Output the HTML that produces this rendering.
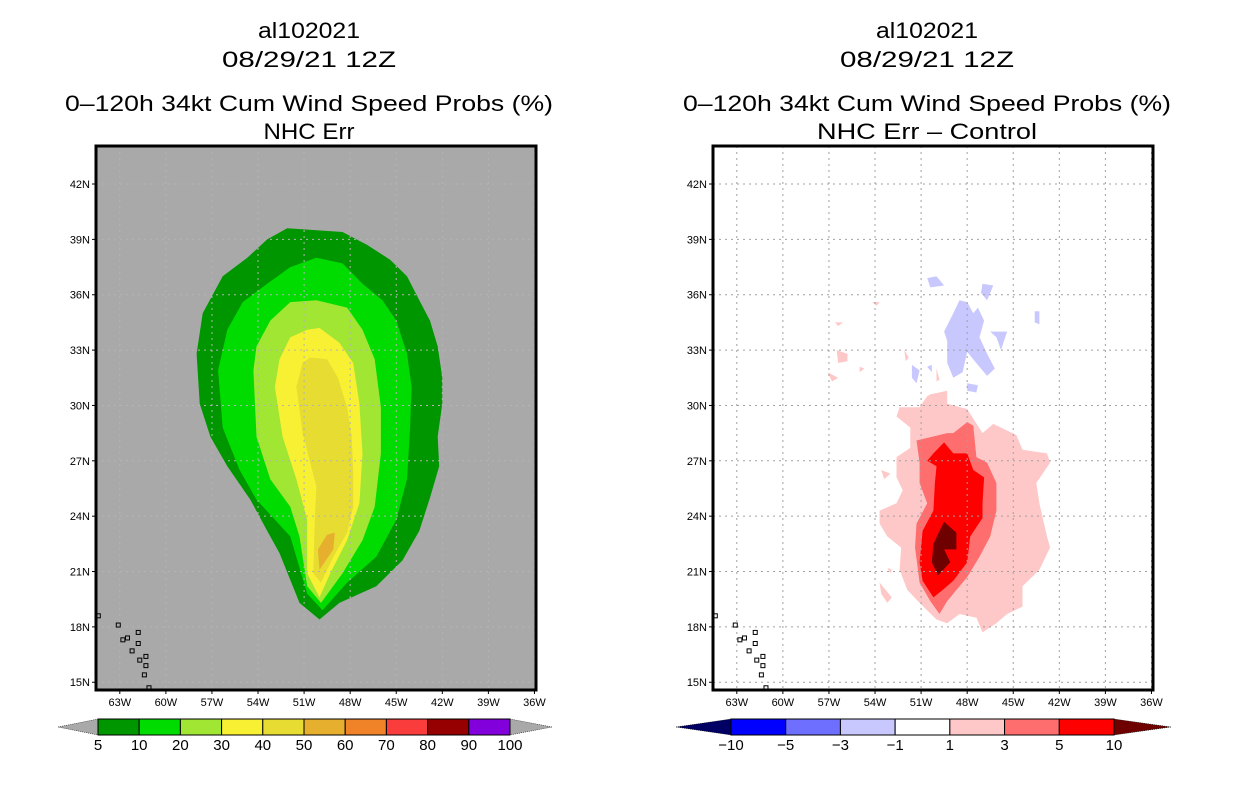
<!DOCTYPE html>
<html><head><meta charset="utf-8">
<style>
body{margin:0;background:#fff;width:1236px;height:800px;overflow:hidden;font-family:"Liberation Sans",sans-serif;}
svg text{font-family:"Liberation Sans",sans-serif;}
</style></head>
<body>
<svg id="root" width="1236" height="800" viewBox="0 0 1236 800" xmlns="http://www.w3.org/2000/svg">
<g text-anchor="middle" font-size="22">
<text x="309" y="38" textLength="102" lengthAdjust="spacingAndGlyphs">al102021</text>
<text x="309" y="67" textLength="174" lengthAdjust="spacingAndGlyphs">08/29/21 12Z</text>
<text x="309" y="111" textLength="488" lengthAdjust="spacingAndGlyphs">0–120h 34kt Cum Wind Speed Probs (%)</text>
<text x="309" y="139" textLength="91" lengthAdjust="spacingAndGlyphs">NHC Err</text>
</g>
<g text-anchor="middle" font-size="22">
<text x="927" y="38" textLength="102" lengthAdjust="spacingAndGlyphs">al102021</text>
<text x="927" y="67" textLength="174" lengthAdjust="spacingAndGlyphs">08/29/21 12Z</text>
<text x="927" y="111" textLength="488" lengthAdjust="spacingAndGlyphs">0–120h 34kt Cum Wind Speed Probs (%)</text>
<text x="927" y="139" textLength="220" lengthAdjust="spacingAndGlyphs">NHC Err – Control</text>
</g>
</svg>
<script>
// ---- data (lon, lat in degrees) ----
const lonTicks=[-63,-60,-57,-54,-51,-48,-45,-42,-39,-36];
const latTicks=[42,39,36,33,30,27,24,21,18,15];
const lonTickLabels=["63W","60W","57W","54W","51W","48W","45W","42W","39W","36W"];
const latTickLabels=["42N","39N","36N","33N","30N","27N","24N","21N","18N","15N"];
const probLevels=[5,10,20,30,40,50,60,70,80,90,100];
const probColors=["#009600","#00dc00","#a0e632","#f8f032","#e6dc32","#e6af2d","#f08228","#fa3c3c","#960000","#8200dc"];
const diffLevels=[-10,-5,-3,-1,1,3,5,10];
const diffColors=["#0000ff","#6e6eff","#c8c8ff","#ffffff","#ffc8c8","#ff6e6e","#ff0000"];
const prob5=[[-52.1,39.6],[-48.5,39.4],[-46.9,38.7],[-45.4,37.9],[-44.3,37.0],[-43.5,35.7],[-42.8,34.6],[-42.3,33.2],[-42.0,31.5],[-42.0,30.1],[-42.3,28.3],[-42.2,26.7],[-42.8,25.0],[-43.5,23.2],[-44.6,21.6],[-46.3,20.2],[-48.7,19.3],[-50.0,18.4],[-51.3,19.3],[-52.6,22.0],[-53.4,23.2],[-54.5,24.9],[-56.0,26.7],[-57.1,28.3],[-57.8,30.1],[-58.0,32.8],[-57.6,35.0],[-56.3,37.0],[-54.7,38.0],[-53.4,39.0]];
const prob10=[[-50.2,38.0],[-48.5,37.7],[-47.2,36.6],[-45.9,35.7],[-45.0,34.6],[-44.3,32.8],[-44.0,31.0],[-44.1,28.8],[-44.3,26.0],[-45.0,23.8],[-46.3,21.8],[-48.2,20.4],[-49.8,18.9],[-50.8,19.8],[-51.9,22.9],[-54.1,24.9],[-55.2,26.5],[-56.3,28.8],[-56.6,31.9],[-56.0,34.1],[-55.0,35.6],[-53.4,36.6],[-51.9,37.5]];
const prob20=[[-51.9,35.6],[-50.2,35.7],[-48.2,35.3],[-47.2,34.1],[-46.4,32.5],[-46.0,29.9],[-46.0,27.4],[-46.4,24.5],[-47.2,22.7],[-48.5,20.9],[-49.9,19.3],[-50.8,20.2],[-51.3,22.9],[-51.9,24.5],[-53.2,26.0],[-54.1,28.3],[-54.3,31.9],[-54.1,33.2],[-53.2,34.6]];
const prob30=[[-50.0,34.2],[-48.7,33.4],[-47.8,32.3],[-47.4,30.1],[-47.2,27.4],[-47.4,24.7],[-48.2,22.7],[-49.3,20.9],[-50.0,19.6],[-50.8,20.9],[-50.8,23.8],[-51.5,26.0],[-52.4,28.3],[-52.9,31.0],[-52.6,32.5],[-51.9,33.7],[-50.8,34.1]];
const prob40=[[-50.6,32.6],[-49.5,32.5],[-48.8,31.5],[-48.2,29.9],[-47.9,28.3],[-47.8,26.3],[-47.8,24.5],[-48.2,23.1],[-49.1,21.8],[-49.9,20.4],[-50.4,20.9],[-50.3,23.8],[-50.2,25.6],[-51.1,28.5],[-51.5,31.0],[-51.1,32.3]];
const prob50=[[-49.5,23.0],[-49.0,23.1],[-49.1,22.2],[-50.0,21.1],[-50.1,22.2]];
const diff1=[[-50.4,30.6],[-49.3,30.8],[-49.3,30.1],[-48.0,29.8],[-47.0,28.5],[-46.3,29.0],[-44.8,28.4],[-44.4,27.6],[-42.8,27.4],[-42.6,26.9],[-43.5,25.8],[-43.3,24.7],[-42.8,22.9],[-42.6,22.3],[-43.3,21.1],[-44.4,20.2],[-44.4,19.1],[-45.4,18.7],[-46.1,18.2],[-47.0,17.7],[-47.4,18.5],[-48.5,18.7],[-49.3,18.2],[-50.0,18.4],[-51.1,19.3],[-51.9,20.0],[-52.4,21.1],[-52.3,22.3],[-53.2,22.9],[-53.7,23.6],[-53.7,24.3],[-52.6,24.7],[-52.2,25.4],[-52.6,26.1],[-52.6,27.2],[-51.7,27.7],[-51.7,28.8],[-52.6,29.4],[-52.4,29.9],[-51.1,29.9],[-50.6,30.5]];
const diff3=[[-51.3,28.1],[-49.3,28.5],[-48.9,28.5],[-48.0,29.1],[-47.6,28.9],[-47.4,27.2],[-46.7,26.9],[-46.1,25.8],[-46.1,24.3],[-46.5,22.9],[-47.2,21.8],[-48.0,20.7],[-48.7,20.0],[-49.3,19.4],[-49.8,18.7],[-50.4,19.4],[-51.1,20.4],[-51.4,22.3],[-51.3,23.6],[-50.6,24.7],[-51.1,25.8],[-51.1,26.9]];
const diff5=[[-49.5,28.0],[-48.9,27.4],[-48.0,27.4],[-47.6,26.5],[-46.9,26.1],[-47.0,24.7],[-47.0,23.9],[-47.8,22.9],[-48.0,21.5],[-48.9,20.5],[-49.6,20.0],[-50.2,19.6],[-50.9,20.5],[-51.1,21.5],[-50.9,23.2],[-50.2,24.3],[-50.1,25.8],[-50.0,26.7],[-50.6,27.0],[-50.2,27.4]];
const diff10=[[-49.5,23.7],[-48.7,23.1],[-48.7,22.2],[-49.5,22.2],[-49.1,21.5],[-49.9,20.8],[-50.3,21.5],[-50.2,22.5],[-49.8,23.2]];
const diffNeg=[
[[-48.5,35.7],[-48.0,35.6],[-47.6,35.0],[-47.3,35.3],[-46.9,34.6],[-47.2,33.7],[-46.7,32.8],[-46.2,32.0],[-46.7,31.6],[-47.5,32.4],[-48.0,32.9],[-48.3,31.8],[-48.9,31.5],[-49.3,32.3],[-49.3,33.5],[-49.5,34.0],[-48.9,35.0]],
[[-47.0,36.6],[-46.3,36.5],[-46.7,35.7],[-47.1,36.1]],
[[-50.6,36.9],[-50.0,37.0],[-49.5,36.5],[-50.4,36.4]],
[[-46.5,34.0],[-45.4,34.0],[-45.8,33.0],[-46.1,33.7]],
[[-43.6,35.1],[-43.3,35.1],[-43.3,34.4],[-43.6,34.5]],
[[-48.0,31.2],[-47.3,31.1],[-47.4,30.7],[-48.0,30.8]],
[[-51.6,32.2],[-51.1,31.9],[-51.3,31.2],[-51.6,31.5]],
[[-50.6,32.1],[-50.3,32.2],[-50.3,31.8]]];
const diffPosSmall=[
[[-56.5,33.0],[-55.8,32.8],[-55.8,32.4],[-56.4,32.3]],
[[-57.1,31.8],[-56.4,31.5],[-56.8,31.3]],
[[-55.0,32.1],[-54.7,32.0],[-55.0,31.8]],
[[-56.6,34.5],[-56.1,34.5],[-56.4,34.3]],
[[-54.2,35.6],[-53.7,35.6],[-53.9,35.4]],
[[-52.1,33.0],[-51.8,32.6],[-52.0,32.4]],
[[-50.0,32.0],[-49.8,31.4],[-50.0,31.3]],
[[-53.6,26.5],[-53.0,26.3],[-53.4,26.0]],
[[-53.7,20.4],[-52.9,19.6],[-53.2,19.3],[-53.6,19.8]],
[[-53.2,21.2],[-52.9,21.1],[-53.0,20.9]]];
const islands=[[-64.4,18.6],[-63.1,18.1],[-62.8,17.3],[-62.5,17.4],[-61.8,17.7],[-61.8,17.1],[-62.2,16.7],[-61.7,16.2],[-61.3,16.4],[-61.3,15.9],[-61.4,15.4],[-61.1,14.7]];

// ---- axes ----
const NS="http://www.w3.org/2000/svg";
const root=document.getElementById('root');
const frameL=[96,713], frameT=146, frameW=440, frameH=544;
const lonMin=-64.55, lonMax=-35.9, latMin=14.58, latMax=44.06;
function xS(p,lon){return frameL[p]+(lon-lonMin)/(lonMax-lonMin)*frameW;}
function yS(lat){return frameT+(latMax-lat)/(latMax-latMin)*frameH;}
function mk(tag,attrs,parent){const e=document.createElementNS(NS,tag);for(const k in attrs)e.setAttribute(k,attrs[k]);(parent||root).appendChild(e);return e;}
function pts(p,arr){return arr.map(d=>xS(p,d[0]).toFixed(1)+","+yS(d[1]).toFixed(1)).join(" ");}

function panel(p,bg,gridColor,fills){
  const g=mk('g',{});
  
  
  const bgR=mk('rect',{x:frameL[p],y:frameT,width:frameW,height:frameH,fill:bg},g);
  
  
  fills.forEach(f=>{
    const poly=mk('polygon',{points:pts(p,f.d),fill:f.c},g);
    
    
  });
  lonTicks.forEach((lon,i)=>{
    const x=xS(p,lon);
    const gl=mk('line',{x1:x,y1:frameT,x2:x,y2:frameT+frameH,stroke:gridColor,'stroke-width':1,'stroke-dasharray':'2,4'},g);
    
    
    const tk=mk('line',{x1:x,y1:frameT+frameH,x2:x,y2:frameT+frameH+4,stroke:'#000','stroke-width':1},g);
    
    
    const t=mk('text',{x:x,y:frameT+frameH+16,'font-size':11,'text-anchor':'middle'},g);
    t.textContent=lonTickLabels[i];
    
    
  });
  latTicks.forEach((lat,i)=>{
    const y=yS(lat);
    const gl=mk('line',{x1:frameL[p],y1:y,x2:frameL[p]+frameW,y2:y,stroke:gridColor,'stroke-width':1,'stroke-dasharray':'2,4'},g);
    
    
    const tk=mk('line',{x1:frameL[p]-4,y1:y,x2:frameL[p],y2:y,stroke:'#000','stroke-width':1},g);
    
    
    const t=mk('text',{x:frameL[p]-6,y:y+4,'font-size':11,'text-anchor':'end'},g);
    t.textContent=latTickLabels[i];
    
    
  });
  islands.forEach(d=>{
    const c=mk('rect',{x:xS(p,d[0])-2,y:yS(d[1])-2,width:4,height:4,fill:'none',stroke:'#000','stroke-width':1},g);
    
    
  });
  const fr=mk('rect',{x:frameL[p],y:frameT,width:frameW,height:frameH,fill:'none',stroke:'#000','stroke-width':3},g);
  
  
}

const leftFills=[prob5,prob10,prob20,prob30,prob40,prob50].map((d,i)=>({d:d,c:probColors[i],n:'prob-contour-'+probLevels[i]}));
panel(0,'#a9a9a9','#b4b4b4',leftFills);
const rightFills=[];
rightFills.push({d:diff1,c:diffColors[4],n:'diff-contour-1'});
diffPosSmall.forEach(d=>rightFills.push({d:d,c:diffColors[4],n:'diff-contour-1-small'}));
rightFills.push({d:diff3,c:diffColors[5],n:'diff-contour-3'});
rightFills.push({d:diff5,c:diffColors[6],n:'diff-contour-5'});
rightFills.push({d:diff10,c:'#6e0000',n:'diff-contour-10'});
diffNeg.forEach(d=>rightFills.push({d:d,c:diffColors[2],n:'diff-contour-neg1'}));
panel(1,'#ffffff','#a0a0a0',rightFills);

// ---- colorbars ----
function colorbar(x0,x1,tl,tr,y0,h,levels,colors,lowC,highC,name){
  const g=mk('g',{});
  
  
  const n=colors.length, w=(x1-x0)/n, ym=y0+h/2;
  const lt=mk('polygon',{points:`${tl},${ym} ${x0},${y0} ${x0},${y0+h}`,fill:lowC,stroke:'#000','stroke-width':0.5,'stroke-dasharray':'1,1'},g);
  
  
  const rt=mk('polygon',{points:`${tr},${ym} ${x1},${y0} ${x1},${y0+h}`,fill:highC,stroke:'#000','stroke-width':0.5,'stroke-dasharray':'1,1'},g);
  
  
  colors.forEach((c,i)=>{
    const r=mk('rect',{x:x0+i*w,y:y0,width:w,height:h,fill:c,stroke:'#000','stroke-width':1},g);
    
    
  });
  levels.forEach((v,i)=>{
    const t=mk('text',{x:x0+i*w,y:y0+h+15,'font-size':15,'text-anchor':'middle'},g);
    t.textContent=String(v).replace('-','−');
    
    
  });
}
colorbar(98,510,58,552,719,16,probLevels,probColors,'#a9a9a9','#a9a9a9','probability-colorbar');
colorbar(731,1114,676,1171,719,16,diffLevels,diffColors,'#000064','#6e0000','difference-colorbar');
</script>
</body></html>
